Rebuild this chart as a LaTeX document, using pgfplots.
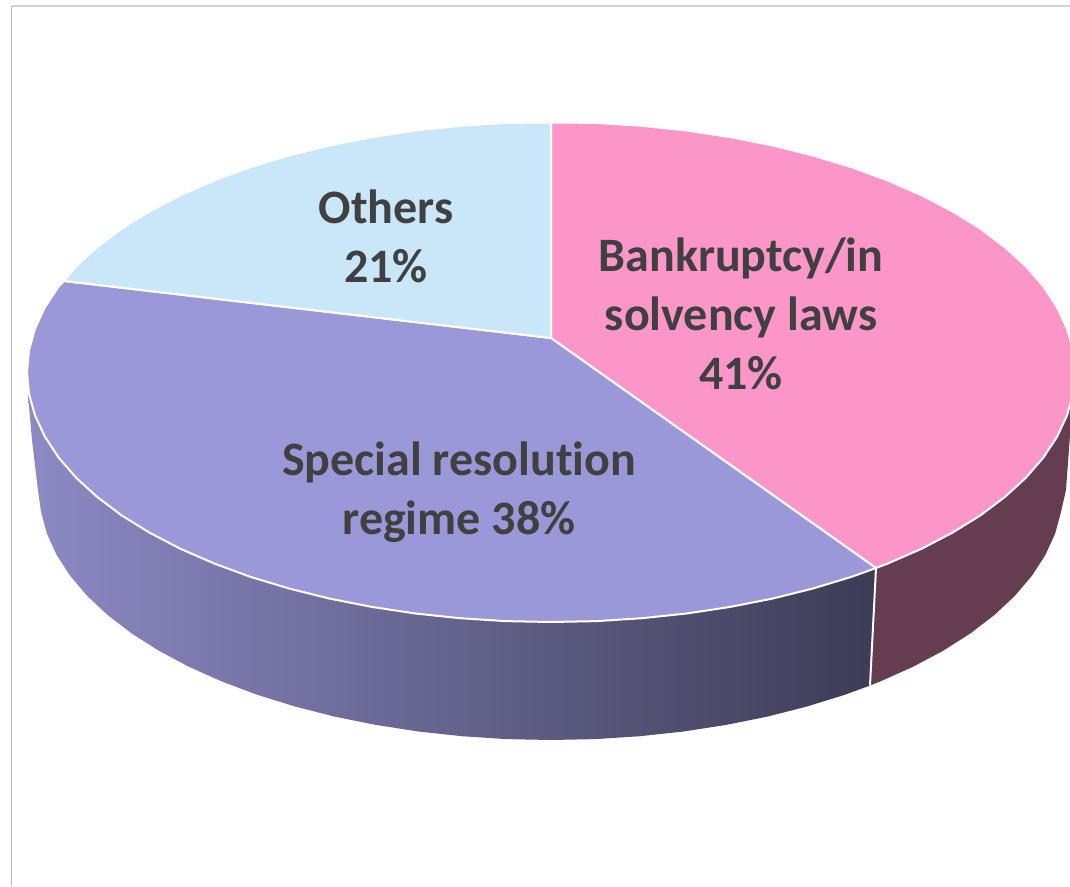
\documentclass[border=0pt]{standalone}
\usepackage{pgfplots}
\pgfplotsset{compat=1.18}
\usepackage{fontspec}
\setmainfont{Carlito}[Ligatures=NoCommon]
\definecolor{pinktop}{HTML}{FD96C8}
\definecolor{purpletop}{HTML}{9B98DA}
\definecolor{bluetop}{HTML}{C9E7F9}
\definecolor{maroonside}{HTML}{663C50}
\definecolor{sideleft}{HTML}{8C8AC4}
\definecolor{sidemiddle}{HTML}{5F5E86}
\definecolor{sideright}{HTML}{3C3C56}
\definecolor{labeltext}{HTML}{404040}
\tikzset{slice label/.style={font=\fontsize{48}{59}\selectfont\bfseries, text=labeltext, align=center, anchor=center}}
\begin{document}
\begin{tikzpicture}
\path[use as bounding box] (0,0) rectangle (1070pt,886pt);
\begin{axis}[
  width=1070pt, height=886pt, scale only axis,
  hide axis, xmin=0, xmax=1070, ymin=0, ymax=886, y dir=reverse, clip=true,
  every axis plot/.append style={line join=round},
]
% frame lines at the top and left
\addplot[draw=black!18, line width=1.2pt] coordinates {(11.5,6) (1070,6)};
\addplot[draw=black!28, line width=1.4pt] coordinates {(11.5,6) (11.5,885.5)};

% side wall under the special resolution slice
\addplot[draw=none, left color=sideleft, middle color=sidemiddle, right color=sideright] coordinates {
 (870,685.5) (844.7,694.8) (807,706.5) (767.4,716.6) (726.1,724.9) (683.5,731.5)
 (639.9,736.2) (595.6,739.1) (551,740) (506.4,739.1) (462.1,736.2) (418.5,731.5)
 (375.9,724.9) (334.6,716.6) (295,706.5) (257.3,694.8) (221.9,681.5) (189,666.8)
 (158.8,650.7) (131.6,633.4) (107.6,615) (87,595.7) (69.9,575.5) (56.5,554.7)
 (46.8,533.4) (41,511.8) (38,490) (32,440) (28,395) (876,568)
} -- cycle;

% side wall under the bankruptcy slice
\addplot[draw=none, fill=maroonside] coordinates {
 (876,568) (1073,393.8) (1066,490) (1061,511.8) (1055.2,533.4) (1045.5,554.7)
 (1032.1,575.5) (1015,595.7) (994.4,615) (970.4,633.4) (943.2,650.7) (913,666.8)
 (880.1,681.5) (870,685.5)
} -- cycle;

% bankruptcy / insolvency laws, 41 percent
\addplot[draw=white, line width=2pt, fill=pinktop] coordinates {
 (551,338) (551,122.5) (596.7,122.9) (642,125.8) (686.6,130.5) (730.2,137.1) (772.4,145.4)
 (813,155.5) (851.6,167.2) (887.8,180.5) (921.5,195.2) (952.4,211.3) (980.3,228.6)
 (1004.8,247) (1025.9,266.3) (1043.4,286.5) (1057.1,307.3) (1067,328.6) (1073,350.2)
 (1075,372) (1073,393.8) (1067,415.4) (1057.1,436.7) (1043.4,457.5) (1025.9,477.7)
 (1004.8,497) (980.3,515.4) (952.4,532.7) (921.5,548.8) (887.8,563.5) (876,568)
} -- cycle;

% special resolution regime, 38 percent
\addplot[draw=white, line width=2pt, fill=purpletop] coordinates {
 (551,338) (876,568) (851.6,576.8) (813,588.5) (772.4,598.6) (730.2,606.9) (686.6,613.5)
 (642,618.2) (596.7,621.1) (551,622) (505.3,621.1) (460,618.2) (415.4,613.5) (371.8,606.9)
 (329.6,598.6) (289,588.5) (250.4,576.8) (214.2,563.5) (180.5,548.8) (149.6,532.7)
 (121.7,515.4) (97.2,497) (76.1,477.7) (58.6,457.5) (44.9,436.7) (35,415.4) (29,393.8)
 (27,372) (29,350.2) (35,328.6) (44.9,307.3) (58.6,286.5) (64,281)
} -- cycle;

% others, 21 percent
\addplot[draw=white, line width=2pt, fill=bluetop] coordinates {
 (551,338) (64,281) (76.1,266.3) (97.2,247) (121.7,228.6) (149.6,211.3) (180.5,195.2)
 (214.2,180.5) (250.4,167.2) (289,155.5) (329.6,145.4) (371.8,137.1) (415.4,130.5)
 (460,125.8) (505.3,122.9) (551,122.5)
} -- cycle;

% seam between the two side walls
\addplot[draw=white, line width=2pt] coordinates {(876,568) (870,685.5)};

\node[slice label] at (axis cs:386,236) {Others\\21\%};
\node[slice label] at (axis cs:741,314) {Bankruptcy/in\\solvency laws\\41\%};
\node[slice label] at (axis cs:459,492) {Special resolution\\regime 38\%};
\end{axis}
\end{tikzpicture}
\end{document}
